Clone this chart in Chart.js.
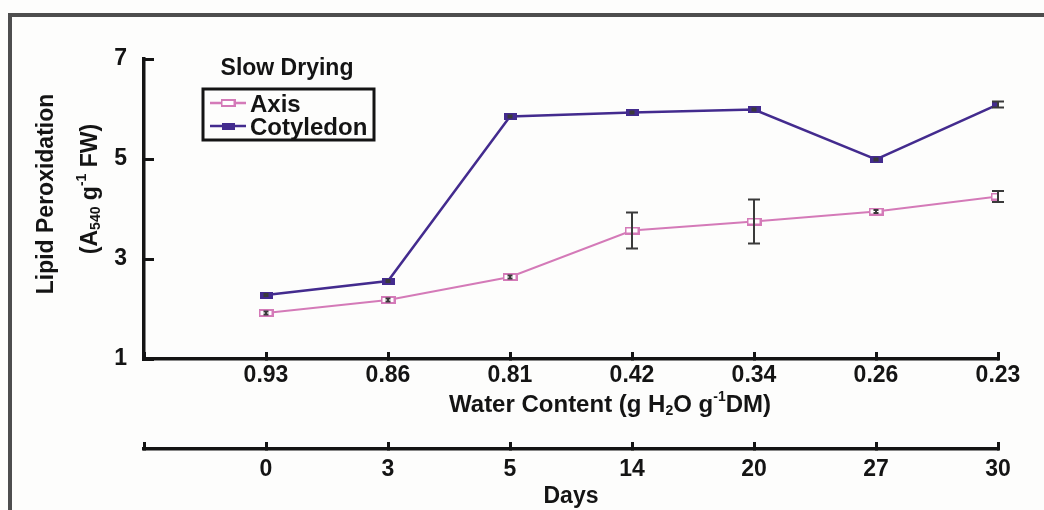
<!DOCTYPE html>
<html>
<head>
<meta charset="utf-8">
<title>Slow Drying - Lipid Peroxidation</title>
<script src="https://cdn.jsdelivr.net/npm/chart.js@4.4.1/dist/chart.umd.min.js"></script>
<style>
    html, body { margin: 0; padding: 0; background: #fdfdfc; }
    .frame { position: relative; width: 1044px; height: 510px; overflow: hidden; }
    .frame-border {
        position: absolute; left: 8px; top: 13px; right: -20px; bottom: -20px;
        border-top: 4px solid #4e4e4e; border-left: 4px solid #4e4e4e;
    }
    #chartWrap { position: absolute; left: 0; top: 0; width: 1044px; height: 510px; }
</style>
</head>
<body>
<div class="frame">
    <div class="frame-border"></div>
    <div id="chartWrap"><canvas id="lipidChart"></canvas></div>
</div>
<script>
const waterContent = ["0.93", "0.86", "0.81", "0.42", "0.34", "0.26", "0.23"];
const days = ["0", "3", "5", "14", "20", "27", "30"];
const axisValues = [1.92, 2.18, 2.64, 3.57, 3.75, 3.95, 4.25];
const axisErrors = [0.03, 0.03, 0.03, 0.36, 0.44, 0.03, 0.11];
const cotyledonValues = [2.28, 2.56, 5.85, 5.93, 5.99, 4.99, 6.09];
const cotyledonErrors = [0.02, 0.02, 0.02, 0.02, 0.02, 0.02, 0.06];
const yTicks = [1, 3, 5, 7];

const FONT = "'Liberation Sans', Arial, Helvetica, sans-serif";
const INK = "#141414";
const PURPLE = "#432b8e";
const PINK = "#d47ab8";

let lipidChart;

function makeMarker(w, h, fill, stroke, lw) {
    const c = document.createElement("canvas");
    c.width = w;
    c.height = h;
    const g = c.getContext("2d");
    g.fillStyle = fill;
    g.fillRect(0, 0, w, h);
    if (stroke) {
        g.strokeStyle = stroke;
        g.lineWidth = lw;
        g.strokeRect(lw / 2, lw / 2, w - lw, h - lw);
    }
    return c;
}

const axisMarker = makeMarker(15, 8, "#ffffff", PINK, 2);
const cotMarker = makeMarker(13, 7, PURPLE);

// text with sub / superscript parts, x is the centre, y the baseline
function drawRich(ctx, parts, x, y, size) {
    const big = "bold " + size + "px " + FONT;
    const small = "bold " + Math.round(size * 0.6) + "px " + FONT;
    let total = 0;
    parts.forEach(p => {
        ctx.font = p[1] ? small : big;
        total += ctx.measureText(p[0]).width;
    });
    let cx = x - total / 2;
    ctx.textAlign = "left";
    ctx.textBaseline = "alphabetic";
    parts.forEach(p => {
        ctx.font = p[1] ? small : big;
        let dy = 0;
        if (p[1] === "sub") dy = size * 0.14;
        if (p[1] === "sup") dy = -size * 0.46;
        ctx.fillText(p[0], cx, y + dy);
        cx += ctx.measureText(p[0]).width;
    });
}

const extrasPlugin = {
    id: "extras",
    afterDatasetsDraw(chart) {
        const ctx = chart.ctx;
        const xs = chart.scales.x;
        const ys = chart.scales.y;
        ctx.save();
        ctx.strokeStyle = "#3a3a3a";
        ctx.lineWidth = 2;
        [[axisValues, axisErrors], [cotyledonValues, cotyledonErrors]].forEach(pair => {
            pair[0].forEach((v, i) => {
                const err = pair[1][i];
                const px = xs.getPixelForValue(i);
                const top = ys.getPixelForValue(v + err);
                const bot = ys.getPixelForValue(v - err);
                const cap = err > 0.05 ? 6 : 2.5;
                ctx.beginPath();
                ctx.moveTo(px, top);
                ctx.lineTo(px, bot);
                ctx.moveTo(px - cap, top);
                ctx.lineTo(px + cap, top);
                ctx.moveTo(px - cap, bot);
                ctx.lineTo(px + cap, bot);
                ctx.stroke();
            });
        });
        ctx.restore();
    },
    afterDraw(chart) {
        const ctx = chart.ctx;
        const xs = chart.scales.x;
        ctx.save();
        ctx.fillStyle = INK;

        // x axis title
        const midX = (xs.left + xs.right) / 2 + 39;
        drawRich(ctx, [["Water Content (g H"], ["2", "sub"], ["O g"], ["-1", "sup"], ["DM)"]], midX, 412, 24);

        // y axis title, two rotated lines
        ctx.save();
        ctx.translate(53, 194);
        ctx.rotate(-Math.PI / 2);
        drawRich(ctx, [["Lipid Peroxidation"]], 0, 0, 23);
        ctx.restore();
        ctx.save();
        ctx.translate(97, 189);
        ctx.rotate(-Math.PI / 2);
        drawRich(ctx, [["(A"], ["540", "sub"], [" g"], ["-1", "sup"], [" FW)"]], 0, 0, 23);
        ctx.restore();

        // legend
        drawRich(ctx, [["Slow Drying"]], 287, 75, 23);
        ctx.strokeStyle = INK;
        ctx.lineWidth = 3;
        ctx.strokeRect(203, 89, 171, 51);
        const rows = [["Axis", PINK, axisMarker, 103], ["Cotyledon", PURPLE, cotMarker, 126]];
        rows.forEach(r => {
            ctx.strokeStyle = r[1];
            ctx.lineWidth = 2.5;
            ctx.beginPath();
            ctx.moveTo(210, r[3]);
            ctx.lineTo(246, r[3]);
            ctx.stroke();
            ctx.drawImage(r[2], 228 - r[2].width / 2, r[3] - r[2].height / 2);
            ctx.fillStyle = INK;
            ctx.font = "bold 24px " + FONT;
            ctx.textAlign = "left";
            ctx.textBaseline = "alphabetic";
            ctx.fillText(r[0], 250, r[3] + 9);
        });
        ctx.restore();
    }
};

function tickLabel(list) {
    return function (value) {
        return Number.isInteger(value) && value >= 0 ? list[value] : "";
    };
}

function bottomAxis(list, weight, height, padding) {
    return {
        type: "linear",
        position: "bottom",
        weight: weight,
        min: -1,
        max: list.length - 1,
        ticks: {
            stepSize: 1,
            autoSkip: false,
            maxRotation: 0,
            padding: padding,
            color: INK,
            font: { family: FONT, size: 23, weight: "bold" },
            callback: tickLabel(list)
        },
        grid: { drawOnChartArea: false, tickLength: -7, tickWidth: 3, tickColor: INK },
        border: { width: 3.5, color: INK },
        afterFit: function (scale) { scale.height = height; }
    };
}

function initChart() {
    const ctx = document.getElementById("lipidChart");

    const xScale = bottomAxis(waterContent, 1, 90, 10);
    const daysScale = bottomAxis(days, 2, 61, 14);
    daysScale.title = {
        display: true,
        text: "Days",
        color: INK,
        padding: { top: 0, bottom: 0 },
        font: { family: FONT, size: 23, weight: "bold" }
    };

    lipidChart = new Chart(ctx, {
        type: "line",
        data: {
            datasets: [
                {
                    label: "Axis",
                    data: axisValues.map((v, i) => ({ x: i, y: v })),
                    borderColor: PINK,
                    borderWidth: 2,
                    pointStyle: axisMarker,
                    tension: 0,
                    xAxisID: "x",
                    yAxisID: "y"
                },
                {
                    label: "Cotyledon",
                    data: cotyledonValues.map((v, i) => ({ x: i, y: v })),
                    borderColor: PURPLE,
                    borderWidth: 2.5,
                    pointStyle: cotMarker,
                    tension: 0,
                    xAxisID: "x",
                    yAxisID: "y"
                }
            ]
        },
        options: {
            responsive: true,
            maintainAspectRatio: false,
            animation: false,
            devicePixelRatio: 1,
            layout: { padding: { top: 59, right: 46, bottom: 0, left: 0 } },
            plugins: {
                legend: { display: false },
                tooltip: { enabled: false }
            },
            scales: {
                x: xScale,
                x2: daysScale,
                y: {
                    min: yTicks[0],
                    max: yTicks[yTicks.length - 1],
                    ticks: {
                        stepSize: yTicks[1] - yTicks[0],
                        padding: 27,
                        color: INK,
                        font: { family: FONT, size: 23, weight: "bold" }
                    },
                    grid: { drawOnChartArea: false, tickLength: -10, tickWidth: 3, tickColor: INK },
                    border: { width: 3.5, color: INK },
                    afterFit: function (scale) { scale.width = 144; }
                }
            }
        },
        plugins: [extrasPlugin]
    });
}

initChart();
</script>
</body>
</html>
